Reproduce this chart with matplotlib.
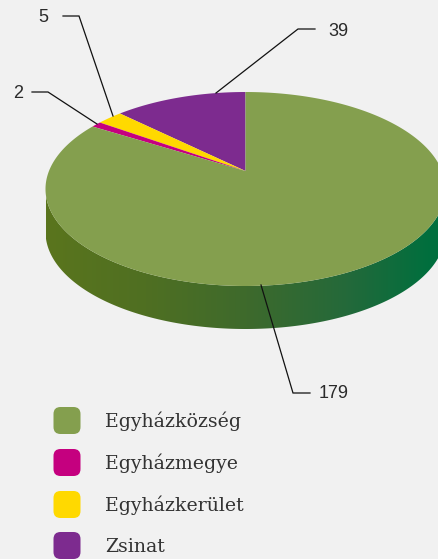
import numpy as np
import matplotlib
matplotlib.use("Agg")
import matplotlib.pyplot as plt
from matplotlib.colors import LinearSegmentedColormap
from matplotlib.patches import FancyBboxPatch, Polygon

# Data (in drawing order, starting at the top and going left)
categories = ['Zsinat', 'Egyházkerület', 'Egyházmegye', 'Egyházközség']
values = [39, 5, 2, 179]
colors = ['#7d2b8f', '#ffd900', '#c5007f', '#849f4e']

legend_order = ['Egyházközség', 'Egyházmegye', 'Egyházkerület', 'Zsinat']

# Pie geometry in pixels
cx, cy, rx, ry = 245.5, 189, 200, 97
apex_x, apex_y = 245.5, 171
depth = 43

# the 3D view shifts the slice edges a bit (degrees)
view_from = [0, 62.4, 70.4, 73.6, 360]
view_to = [0, 65.4, 71.6, 73.8, 360]

bg = '#f1f1f1'

fig = plt.figure(figsize=(4.38, 5.59), dpi=100, facecolor=bg)
ax = fig.add_axes([0, 0, 1, 1])
ax.set_axis_off()


def rim_point(a):
    # where a ray from the apex hits the ellipse
    a = np.radians(np.interp(np.degrees(a), view_from, view_to))
    dx = -np.sin(a)
    dy = -np.cos(a)
    ox = (apex_x - cx) / rx
    oy = (apex_y - cy) / ry
    px = dx / rx
    py = dy / ry
    A = px**2 + py**2
    B = 2 * (ox * px + oy * py)
    C = ox**2 + oy**2 - 1
    t = (-B + np.sqrt(B**2 - 4 * A * C)) / (2 * A)
    return apex_x + t * dx, apex_y + t * dy


# Side wall with gradient
t = np.linspace(0, np.pi, 200)
wx = cx + rx * np.cos(t)
wy = cy + ry * np.sin(t)
wall = np.column_stack([np.r_[wx, wx[::-1]], np.r_[wy, wy[::-1] + depth]])
cmap = LinearSegmentedColormap.from_list('wall', [
    (0.0, '#5a751d'), (0.25, '#4f6f22'), (0.5, '#3e6a2c'),
    (0.75, '#24693a'), (0.96, '#006f3e'), (1.0, '#006f3e')])
img = ax.imshow(np.linspace(0, 1, 256).reshape(1, -1), cmap=cmap, aspect='auto',
                extent=[cx - rx, cx + rx, 340, 180], zorder=1)
img.set_clip_path(Polygon(wall, transform=ax.transData))

# Top of the pie
total = sum(values)
start = 0.0
for val, col in zip(values, colors):
    end = start + val / total * 2 * np.pi
    angles = np.linspace(start, end, max(int(val) * 4, 12))
    rim = np.array([rim_point(a) for a in angles])
    pts = np.vstack([[apex_x, apex_y], rim])
    ax.add_patch(Polygon(pts, closed=True, facecolor=col, edgecolor='none', zorder=2))
    start = end

# Leader lines and value labels
leaders = [
    ([63, 79, 113], [16, 16, 116]),
    ([32, 48, 97], [92, 92, 124]),
    ([315, 298, 216], [29, 29, 93]),
    ([310, 293, 261], [393, 393, 285]),
]
for lx, ly in leaders:
    ax.plot(lx, ly, color='#111111', lw=0.9, zorder=3, solid_joinstyle='miter')

label_pos = [(48, 18, 'right'), (23, 94, 'right'), (328, 31, 'left'), (319, 393, 'left')]
label_vals = [values[1], values[2], values[0], values[3]]
for (lx, ly, ha), v in zip(label_pos, label_vals):
    ax.text(lx, ly, str(v), ha=ha, va='center', fontsize=13, color='#2a2a2a',
            family='Liberation Sans')

# Legend
legend_y = [420.5, 462.5, 504.5, 545.5]
for name, y in zip(legend_order, legend_y):
    col = colors[categories.index(name)]
    ax.add_patch(FancyBboxPatch((60.5, y - 6.5), 13, 13,
                                boxstyle='round,pad=7,rounding_size=7',
                                facecolor=col, edgecolor='none', zorder=2))
    ax.text(105, y + 1, name, ha='left', va='center', fontsize=13.6, color='#333333',
            family='DejaVu Serif')

ax.set_xlim(0, 438)
ax.set_ylim(559, 0)

fig.savefig('out.png', dpi=100, facecolor=bg)
